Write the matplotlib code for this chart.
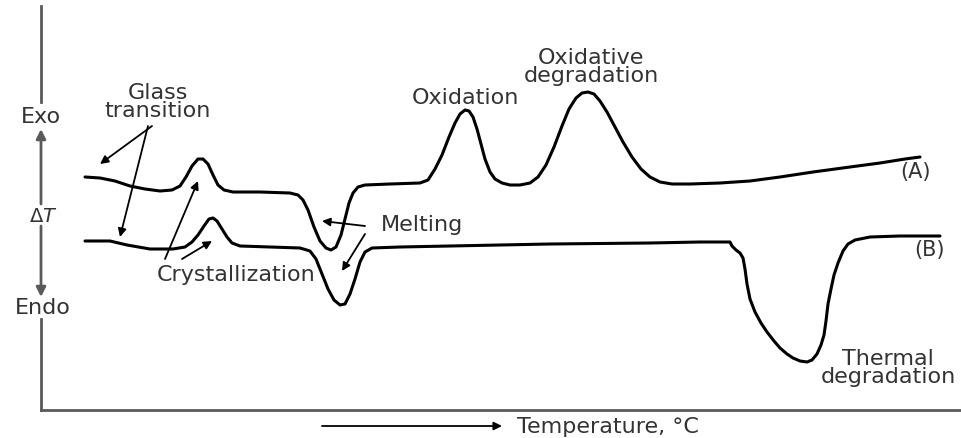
import matplotlib.pyplot as plt

plt.rcParams['font.family'] = ['DejaVu Sans']
plt.rcParams['mathtext.fontset'] = 'dejavusans'

# curve (A): temperature position vs delta T (screen units, y down)
a_temp = [85, 100, 115, 130, 145, 160, 172, 180, 186, 192, 198, 203, 208, 213, 218, 224,
          233, 260, 290, 298, 303, 308, 314, 320, 326, 331, 336, 341, 345, 349, 353, 358,
          365, 390, 420, 428, 435, 442, 449, 455, 460, 465, 469, 473, 477, 481, 485, 490,
          495, 502, 510, 520, 530, 538, 546, 554, 562, 569, 576, 582, 588, 594, 600, 607,
          615, 623, 632, 641, 650, 660, 672, 690, 720, 750, 780, 813, 850, 880, 905, 920]
a_dt = [178, 179, 182, 187, 190, 192, 191, 187, 178, 167, 160, 160, 165, 176, 186, 191,
        193, 193, 194, 196, 201, 211, 228, 242, 249, 251, 248, 236, 220, 204, 194, 188,
        186, 185, 184, 181, 170, 156, 138, 124, 115, 111, 112, 118, 130, 145, 160, 173,
        180, 184, 186, 186, 184, 178, 166, 148, 127, 110, 99, 94, 93, 95, 102, 113,
        128, 143, 158, 170, 178, 183, 185, 185, 184, 182, 178, 173, 168, 164, 160, 158]

# curve (B)
b_temp = [85, 110, 127, 150, 173, 185, 192, 198, 204, 209, 213, 217, 222, 227, 232, 240,
          270, 300, 310, 316, 322, 328, 334, 340, 345, 350, 355, 360, 365, 372, 400, 450,
          550, 650, 700, 730, 732, 736, 740, 743, 745, 747, 750, 755, 761, 767, 774, 780,
          787, 793, 800, 807, 812, 817, 821, 824, 826, 828, 831, 834, 838, 843, 848, 855,
          870, 900, 940]
b_dt = [242, 242, 246, 250, 250, 248, 243, 236, 227, 220, 219, 222, 230, 238, 244, 247,
        248, 249, 252, 260, 275, 290, 301, 306, 305, 295, 280, 263, 253, 249, 248, 247,
        245, 244, 243, 243, 247, 251, 254, 259, 270, 285, 300, 313, 324, 333, 342, 349,
        355, 359, 362, 363, 361, 355, 346, 336, 322, 305, 290, 276, 264, 252, 245, 241,
        238, 237, 237]

fig = plt.figure(figsize=(9.62, 4.39), dpi=100)
ax = fig.add_axes([0, 0, 1, 1])
ax.set_xlim(0, 962)
ax.set_ylim(439, 0)
ax.axis('off')

ax.plot(a_temp, a_dt, color='black', lw=2.2, solid_capstyle='round', solid_joinstyle='round')
ax.plot(b_temp, b_dt, color='black', lw=2.2, solid_capstyle='round', solid_joinstyle='round')

axis_col = '#5a5a5a'
txt_col = '#333333'
fs = 16

# frame: vertical delta T axis with exo/endo arrows, temperature baseline
ax.plot([41, 41], [7, 103], color=axis_col, lw=2)
ax.plot([41, 41], [320, 411], color=axis_col, lw=2)
ax.plot([41, 962], [411, 411], color=axis_col, lw=2)
ax.annotate('', xy=(41, 130), xytext=(41, 205),
            arrowprops=dict(arrowstyle='-|>', color=axis_col, lw=2, mutation_scale=14, shrinkA=0, shrinkB=0))
ax.annotate('', xy=(41, 298), xytext=(41, 227),
            arrowprops=dict(arrowstyle='-|>', color=axis_col, lw=2, mutation_scale=14, shrinkA=0, shrinkB=0))
ax.text(41, 117, 'Exo', fontsize=fs, color=txt_col, ha='center', va='center')
ax.text(43, 217, r'$\Delta T$', fontsize=fs - 2, color=txt_col, ha='center', va='center')
ax.text(43, 308, 'Endo', fontsize=fs, color=txt_col, ha='center', va='center')

ax.annotate('', xy=(502, 427), xytext=(322, 427),
            arrowprops=dict(arrowstyle='-|>', color='black', lw=1.3, mutation_scale=12, shrinkA=0, shrinkB=0))
ax.text(517, 427, 'Temperature, °C', fontsize=fs, color=txt_col, ha='left', va='center')

# annotations
arrow = dict(arrowstyle='-|>', color='black', lw=1.3, mutation_scale=12, shrinkA=0, shrinkB=0)
two_line = dict(fontsize=fs, color=txt_col, ha='center', va='center',
                multialignment='center', linespacing=0.85)

ax.text(158, 102, 'Glass\ntransition', **two_line)
ax.annotate('', xy=(100, 165), xytext=(152, 127), arrowprops=arrow)
ax.annotate('', xy=(120, 238), xytext=(148, 127), arrowprops=arrow)

ax.text(236, 275, 'Crystallization', fontsize=fs, color=txt_col, ha='center', va='center')
ax.annotate('', xy=(198, 182), xytext=(165, 260), arrowprops=arrow)
ax.annotate('', xy=(212, 242), xytext=(182, 260), arrowprops=arrow)

ax.text(422, 225, 'Melting', fontsize=fs, color=txt_col, ha='center', va='center')
ax.annotate('', xy=(322, 222), xytext=(365, 227), arrowprops=arrow)
ax.annotate('', xy=(342, 272), xytext=(365, 235), arrowprops=arrow)

ax.text(465, 98, 'Oxidation', fontsize=fs, color=txt_col, ha='center', va='center')
ax.text(591, 67, 'Oxidative\ndegradation', **two_line)

ax.text(888, 368, 'Thermal\ndegradation', **two_line)

ax.text(916, 172, '(A)', fontsize=fs - 1, color=txt_col, ha='center', va='center')
ax.text(930, 250, '(B)', fontsize=fs - 1, color=txt_col, ha='center', va='center')

fig.savefig('out.png', dpi=100)
